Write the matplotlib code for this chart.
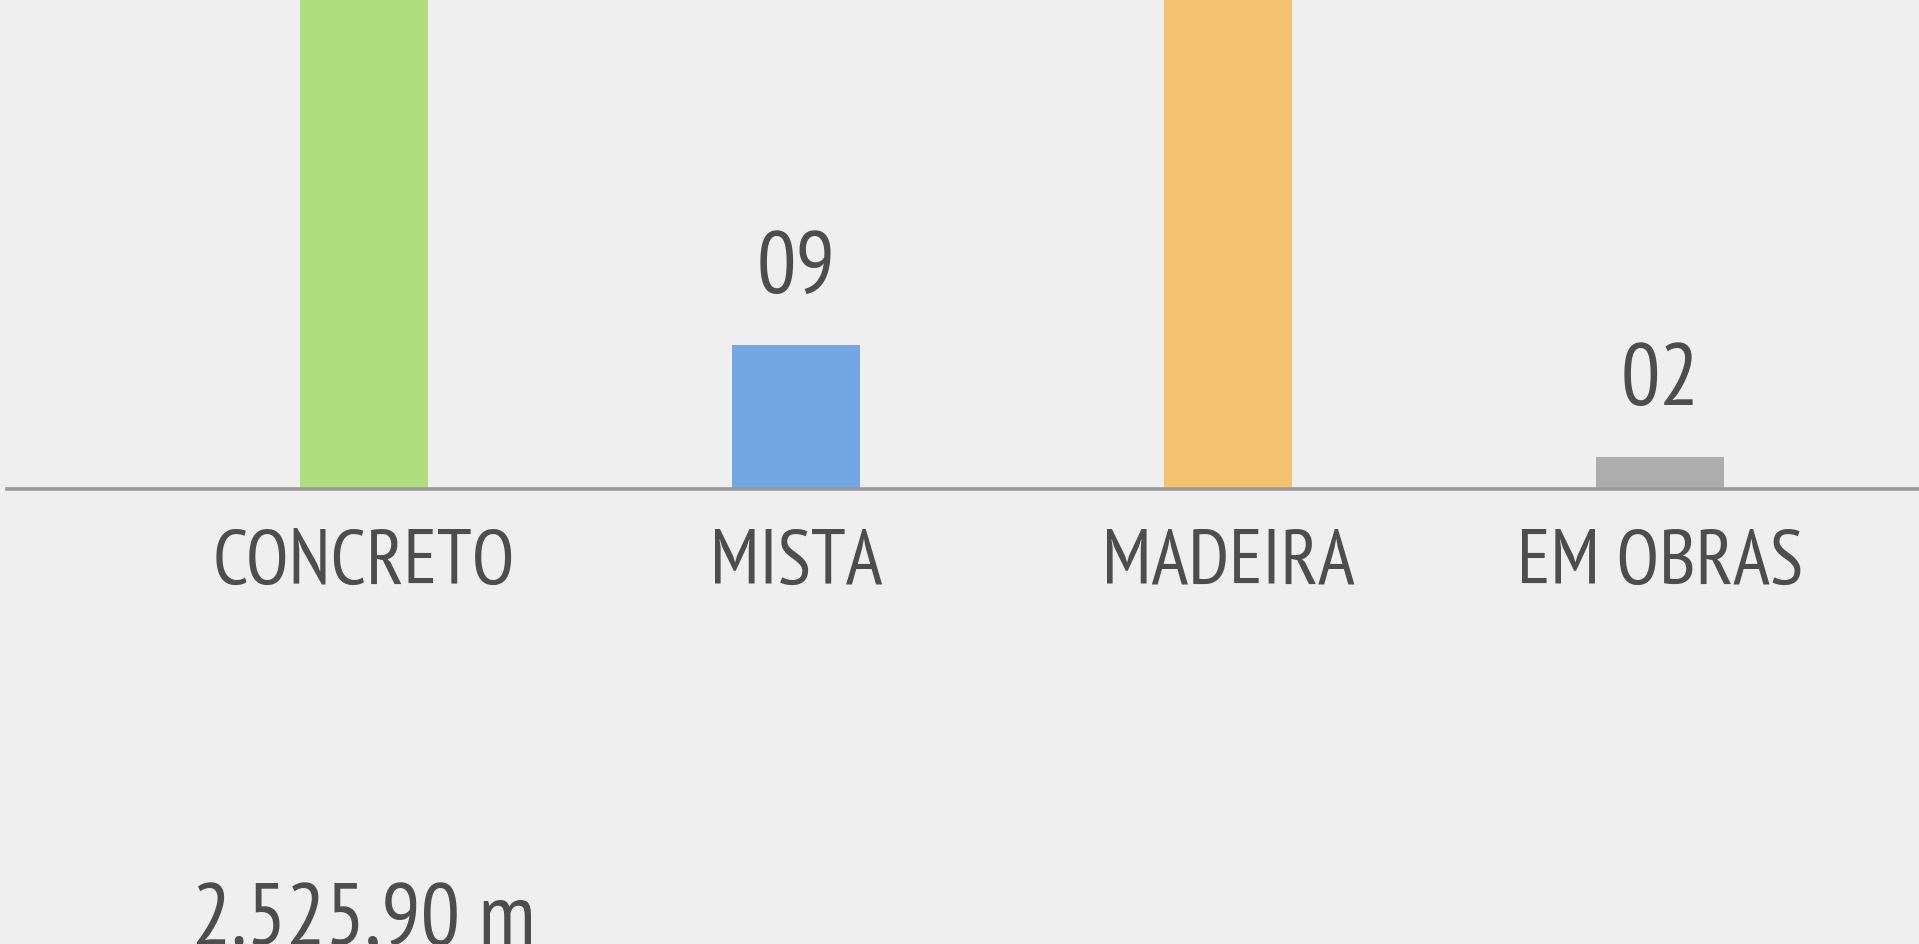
import matplotlib.pyplot as plt

# data (tall bars run off the top, their exact values are not visible)
categories = ["CONCRETO", "MISTA", "MADEIRA", "EM OBRAS"]
values = [38, 9, 34, 2]
value_labels = ["", "09", "", "02"]
bar_colors = ["#b0dd7e", "#72a7e4", "#f2c271", "#adadad"]
total_label = "2.525,90 m"

BG = "#efefef"
INK = "#4d4d4d"
RULE = "#9a9a9a"

plt.rcParams["font.family"] = ["PT Sans Narrow", "DejaVu Sans"]

fig = plt.figure(figsize=(19.19, 9.45), dpi=100, facecolor=BG)
ax = fig.add_axes([0, 0, 1, 1], facecolor=BG)

x = list(range(len(categories)))
ax.bar(x, values, width=0.296, color=bar_colors, zorder=2)
ax.axhline(0, xmin=7 / 1919, xmax=1, color=RULE, lw=2.6, zorder=3)

# 432 px between bar centres, first centre at 364 px, baseline 490 px from top
ax.set_xlim(-364 / 432, (1919 - 364) / 432)
ax.set_ylim(-455 / 16, 490 / 16)
ax.axis("off")

for xi, v, lab in zip(x, values, value_labels):
    if lab:
        ax.annotate(lab, (xi, v), xytext=(0, 38), textcoords="offset points",
                    ha="center", va="baseline", fontsize=63, color=INK)

for xi, cat in zip(x, categories):
    ax.annotate(cat, (xi, 0), xytext=(0, -67.5), textcoords="offset points",
                ha="center", va="baseline", fontsize=56, color=INK,
                annotation_clip=False)

ax.annotate(total_label, (x[0], 0), xytext=(0, -328), textcoords="offset points",
            ha="center", va="baseline", fontsize=63, color=INK,
            annotation_clip=False)

fig.savefig("out.png", dpi=100, facecolor=BG)
